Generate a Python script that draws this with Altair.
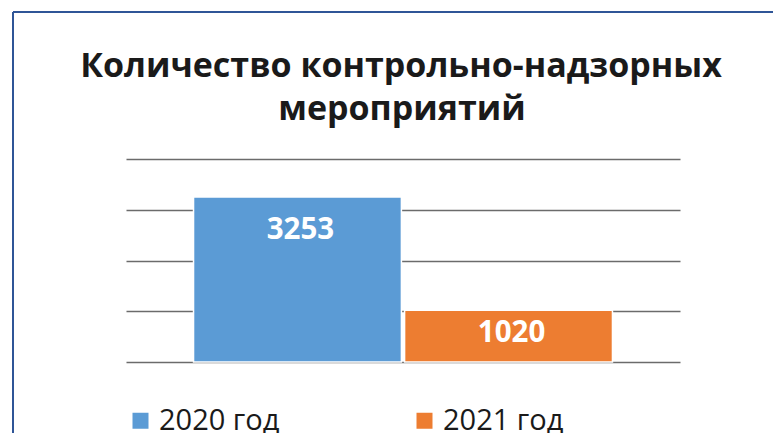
import altair as alt
import pandas as pd

categories = ["2020 год", "2021 год"]
values = [3253, 1020]
colors = ["#5B9BD5", "#ED7D31"]
title_lines = ["Количество контрольно-надзорных", "мероприятий"]
grid_values = [0, 1000, 2000, 3000, 4000]

df = pd.DataFrame({"cat": categories, "val": values})
one = pd.DataFrame({"k": [0]})

W, H = 554, 203
LEFT, TOP = 126, 159

base = alt.Chart(df).encode(
    x=alt.X("cat:N", sort=categories, axis=None,
            scale=alt.Scale(paddingInner=0.015, paddingOuter=0.32)),
)

bars = base.mark_bar(stroke="white", strokeWidth=1.5).encode(
    y=alt.Y("val:Q", scale=alt.Scale(domain=[0, 4000]),
            axis=alt.Axis(values=grid_values, labels=False, ticks=False, domain=False,
                          grid=True, gridColor="#6b6b6b", gridWidth=1.5, title=None)),
    color=alt.Color("cat:N", scale=alt.Scale(domain=categories, range=colors),
                    legend=alt.Legend(orient="none", legendX=0, legendY=247,
                                      direction="horizontal", symbolType="square",
                                      symbolSize=256, symbolStrokeWidth=0,
                                      labelFontSize=29, labelFont="Open Sans",
                                      labelColor="#1a1a1a", labelOffset=4,
                                      columnPadding=130, title=None, labelLimit=300)),
)

lab_style = dict(color="white", fontSize=29.5, fontWeight="bold", font="Open Sans",
                 baseline="alphabetic", align="center")
lab1 = base.mark_text(dy=42, dx=3, **lab_style).encode(
    y="val:Q", text="val:Q").transform_filter(alt.datum.cat == categories[0])
lab2 = base.mark_text(dy=32, dx=3, **lab_style).encode(
    y="val:Q", text="val:Q").transform_filter(alt.datum.cat == categories[1])

title_style = dict(fontSize=34, font="Open Sans", fontWeight="bold", color="#1a1a1a",
                   align="center", baseline="alphabetic")
t1 = alt.Chart(one).mark_text(**title_style).encode(
    x=alt.value(401 - LEFT), y=alt.value(77 - TOP), text=alt.value(title_lines[0]))
t2 = alt.Chart(one).mark_text(**title_style).encode(
    x=alt.value(402 - LEFT), y=alt.value(120 - TOP), text=alt.value(title_lines[1]))

border_top = alt.Chart(one).mark_rule(color="#2F5597", strokeWidth=2).encode(
    x=alt.value(13 - LEFT), x2=alt.value(773 - LEFT), y=alt.value(12 - TOP), y2=alt.value(12 - TOP))
border_left = alt.Chart(one).mark_rule(color="#2F5597", strokeWidth=2).encode(
    x=alt.value(13 - LEFT), x2=alt.value(13 - LEFT), y=alt.value(12 - TOP), y2=alt.value(433 - TOP))

chart = alt.layer(bars, lab1, lab2, t1, t2, border_top, border_left).properties(
    width=W, height=H,
    autosize="none",
    background="white",
    padding={"left": LEFT, "top": TOP, "right": 773 - LEFT - W, "bottom": 433 - TOP - H},
).configure_view(stroke=None)

chart.save("out.html", embed_options={"renderer": "svg", "actions": False})
